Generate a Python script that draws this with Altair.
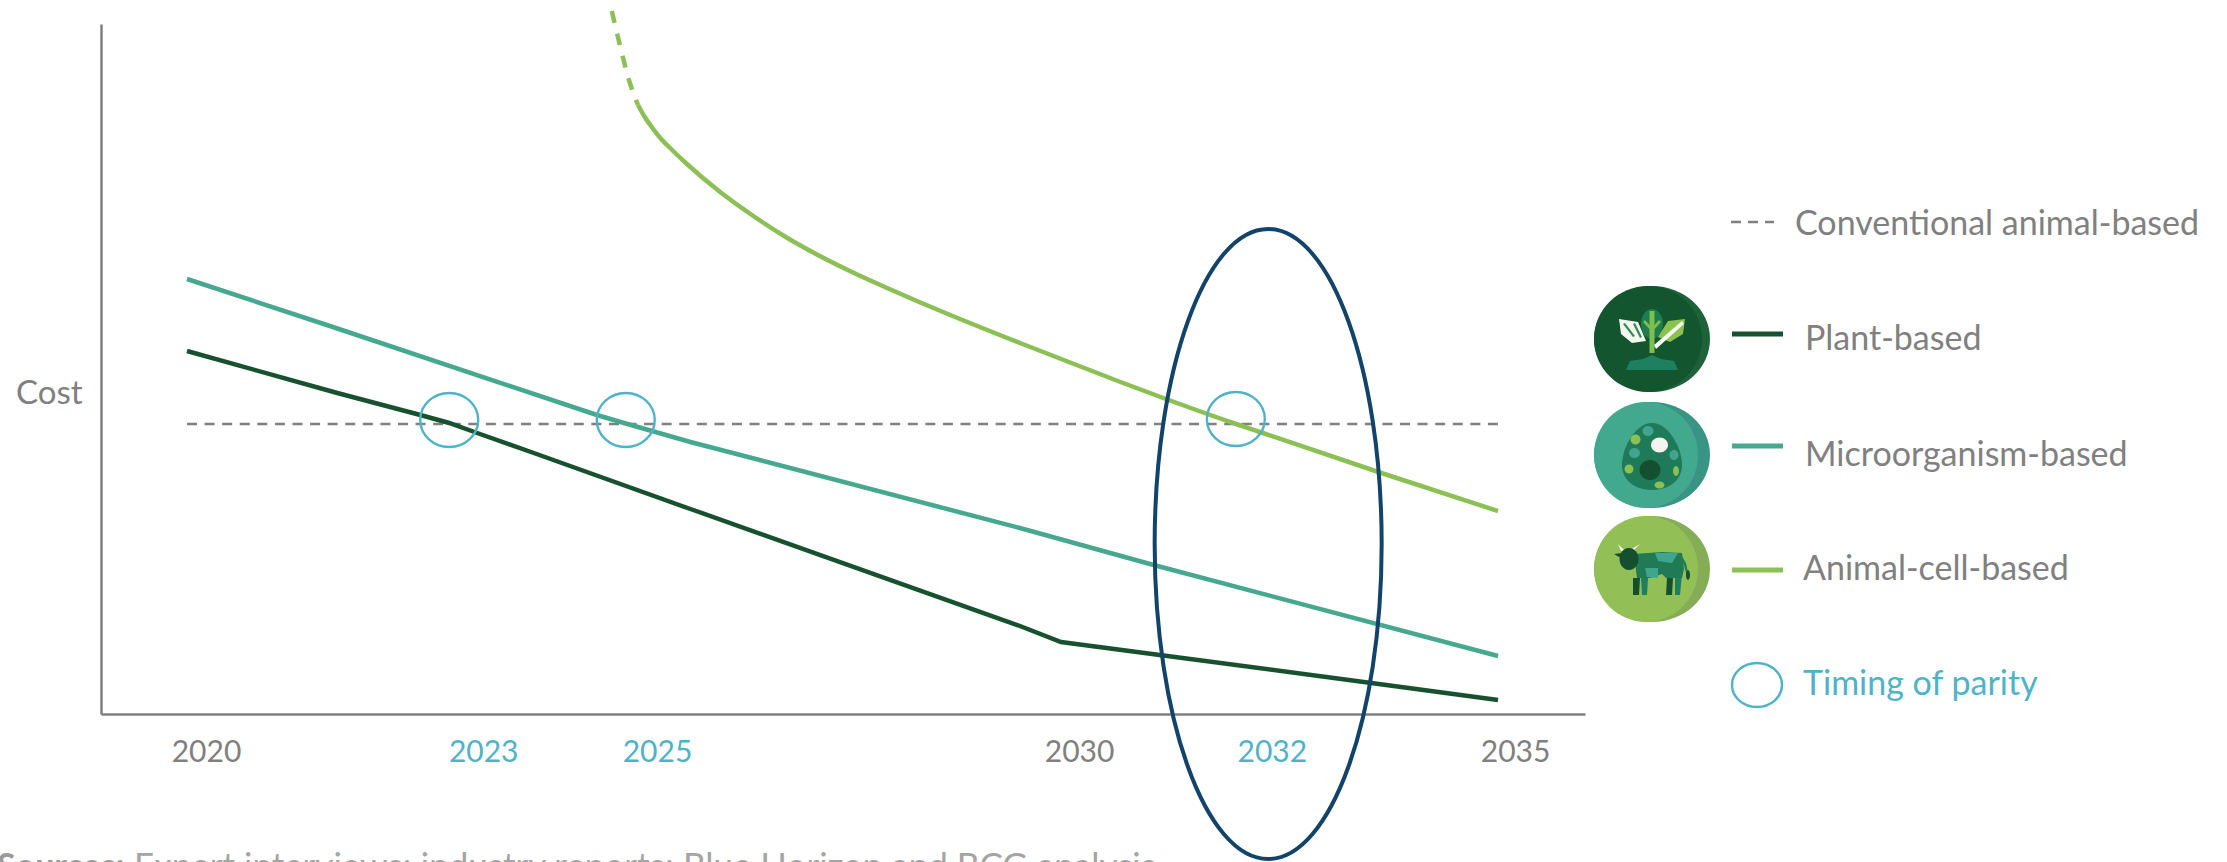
import altair as alt
import pandas as pd

# Cost curves: year against relative cost
plant_years = [2020, 2021.72, 2022.67, 2023.0, 2023.32, 2024.0, 2025.76, 2029.53, 2030.0, 2031.13, 2033.55, 2035]
plant_cost = [363, 321, 299, 291, 281, 260, 205, 88, 72, 59, 31, 14]
micro_years = [2020, 2021.6, 2024.69, 2025.0, 2025.76, 2029.53, 2031.06, 2035]
micro_cost = [435, 389, 299, 291, 272, 186, 149, 58]
cell_years = [2025.16, 2025.23, 2025.30, 2025.41, 2025.55, 2025.72, 2026.10, 2026.48, 2026.86, 2027.24, 2027.62,
              2028.01, 2028.39, 2028.76, 2029.53, 2030.68, 2031.17, 2031.97, 2032.31, 2033.63, 2035]
cell_cost = [609, 598, 589, 576.5, 564, 550, 522, 498, 476.5, 458, 441.5,
             426, 411.5, 398, 371, 332, 316, 291, 281, 242, 203]
cell_early_years = [2024.86, 2024.95, 2025.06, 2025.16]
cell_early_cost = [703, 670, 633, 609]
conventional_years = [2020, 2035]
conventional_cost = [290, 290]

parity_years = [2023, 2025, 2032]
parity_mark_years = [2023, 2025.02, 2032]
parity_cost = [294, 294, 295]
highlight_year = [2032.37]
highlight_cost = [170]

tick_years = [2020, 2023, 2025, 2030, 2032, 2035]
tick_shift = [19, 34, 33, 18, 36, 17]

PLANT, MICRO, CELL = "#17512f", "#46a88f", "#8cbf56"
PARITY, NAVY, GREY = "#4fb3c8", "#12436a", "#808080"
FONT = "Lato"
LEFT, TOP = 101, 24


def ell(rx, ry, cx=0, cy=0):
    """Closed ellipse as an SVG path around a local origin."""
    return (f"M{cx-rx},{cy}A{rx},{ry},0,1,1,{cx+rx},{cy}"
            f"A{rx},{ry},0,1,1,{cx-rx},{cy}Z")


def poly(*pts):
    return "M" + "L".join(f"{x},{y}" for x, y in pts) + "Z"


xs = alt.Scale(domain=[2019.016, 2035.995], nice=False, zero=False)
ys = alt.Scale(domain=[0, 690], nice=False, zero=False)
x_axis = alt.Axis(
    values=tick_years, title=None, grid=False, ticks=False, format="d",
    domainColor=GREY, domainWidth=2.5, labelFont=FONT, labelFontSize=30,
    labelPadding=23, labelFlush=False, labelOverlap=False,
    labelColor={"condition": {"test": f"indexof({parity_years}, datum.value) >= 0", "value": PARITY},
                "value": GREY},
    labelOffset={"condition": [{"test": f"datum.value == {y}", "value": s}
                               for y, s in zip(tick_years, tick_shift)], "value": 0},
)
y_axis = alt.Axis(
    values=[321], title=None, grid=False, ticks=False, labelExpr="'Cost'",
    domainColor=GREY, domainWidth=2.5, labelFont=FONT, labelFontSize=33,
    labelColor=GREY, labelPadding=19,
)
X = alt.X("year:Q", scale=xs, axis=x_axis)
Y = alt.Y("cost:Q", scale=ys, axis=y_axis)


def series(years, cost, **mark):
    frame = pd.DataFrame({"year": years, "cost": cost})
    return alt.Chart(frame).mark_line(**mark).encode(x=X, y=Y)


def marker(years, cost, path, stroke, width):
    frame = pd.DataFrame({"year": years, "cost": cost})
    return alt.Chart(frame).mark_point(
        shape=path, size=4, filled=False, stroke=stroke, strokeWidth=width, opacity=1, fill=None
    ).encode(x=X, y=Y)


one = pd.DataFrame({"k": [0]})


def glyph(cx, cy, path, fill):
    return alt.Chart(one).mark_point(
        shape=path, size=4, filled=True, fill=fill, stroke=None, opacity=1
    ).encode(x=alt.value(cx - LEFT), y=alt.value(cy - TOP))


def label(px, py, text, color=GREY, size=34, weight="normal"):
    return alt.Chart(one).mark_text(
        text=text, align="left", baseline="middle", font=FONT, fontSize=size,
        color=color, fontWeight=weight
    ).encode(x=alt.value(px - LEFT), y=alt.value(py - TOP))


def key_line(x0, x1, py, color, width, dash=None):
    opts = dict(color=color, strokeWidth=width)
    if dash:
        opts["strokeDash"] = dash
    return alt.Chart(one).mark_rule(**opts).encode(
        x=alt.value(x0 - LEFT), x2=alt.value(x1 - LEFT), y=alt.value(py - TOP)
    )


layers = [
    series(conventional_years, conventional_cost, color=GREY, strokeWidth=2.5, strokeDash=[10, 7.58]),
    series(plant_years, plant_cost, color=PLANT, strokeWidth=4.5),
    series(micro_years, micro_cost, color=MICRO, strokeWidth=4.5),
    series(cell_early_years, cell_early_cost, color=CELL, strokeWidth=4.5, strokeDash=[12, 11], interpolate="monotone"),
    series(cell_years, cell_cost, color=CELL, strokeWidth=4.5, interpolate="monotone"),
    marker(parity_mark_years, parity_cost, ell(29, 27), PARITY, 2.4),
    marker(highlight_year, highlight_cost, ell(113.5, 315), NAVY, 4),
]

# Key: line samples and their captions
layers += [
    key_line(1731, 1774, 222, GREY, 2.5, [10, 7]),
    key_line(1732, 1783, 334, PLANT, 5),
    key_line(1732, 1783, 446, MICRO, 5),
    key_line(1732, 1783, 570, CELL, 5),
    alt.Chart(one).mark_point(shape=ell(25, 22), size=4, filled=False, stroke=PARITY, strokeWidth=2.4, opacity=1)
       .encode(x=alt.value(1757 - LEFT), y=alt.value(685 - TOP)),
    label(1795, 225, "Conventional animal-based"),
    label(1805, 340, "Plant-based"),
    label(1805, 456, "Microorganism-based"),
    label(1803, 570, "Animal-cell-based"),
    label(1803, 685, "Timing of parity", color=PARITY),
]

# Plant icon
c = (1652, 339)
for path, fill in [
    (ell(58, 53), "#1d6238"),
    (ell(54, 53, -4, 0), "#12552f"),
    (ell(11, 15, 0, -15), "#1e7d4f"),
    (poly((-26, 31), (-22, 22), (-9, 20), (0, 16), (9, 20), (22, 22), (26, 31)), "#1f8060"),
    (poly((-33, -20), (-14, -17), (-6, 2), (-20, 4), (-31, -5)), "#f4f8ee"),
    (poly((-29, -15), (-27, -16), (-17, -3), (-19, -2)), "#2f8e55"),
    (poly((-19, -15), (-17, -16), (-10, -2), (-12, -1)), "#2f8e55"),
    (poly((33, -20), (16, -18), (6, -2), (18, 3), (31, -5)), "#8cc152"),
    (poly((-2.5, -28), (2.5, -28), (2.5, 14), (-2.5, 14)), "#7ec04f"),
    (poly((-9, -17), (-7, -19), (1, -10), (1, -6)), "#7ec04f"),
    (poly((9, -17), (7, -19), (-1, -10), (-1, -6)), "#7ec04f"),
    (poly((2, 6), (30, -18), (32, -15), (4, 10)), "#f4f8ee"),
]:
    layers.append(glyph(c[0], c[1], path, fill))

# Microorganism icon
c = (1652, 455)
for path, fill in [
    (ell(58, 53), "#3a9484"),
    (ell(52, 53, -6, 0), "#42a98f"),
    ("M0,-32C16,-32,30,-8,30,10C30,26,16,35,0,35C-16,35,-30,26,-30,10C-30,-8,-16,-32,0,-32Z", "#1f7a5a"),
    (ell(8.5, 7.5, 7.5, -10), "#f5f5f0"),
    (ell(5.5, 5, -4, -24), "#3fa58f"),
    (ell(5, 5, -16.5, -15.5), "#8cc152"),
    (ell(5.5, 5, -17.5, -2), "#3fa58f"),
    (ell(4.5, 5, 22, 0), "#3fa58f"),
    (ell(10.5, 10, -2, 15), "#14502f"),
    (ell(4.5, 4.5, -23, 14), "#8cc152"),
    (ell(5, 3.5, 7.5, 30), "#8cc152"),
    (ell(3, 5, 24, 16), "#8cc152"),
]:
    layers.append(glyph(c[0], c[1], path, fill))

# Cow icon
c = (1652, 569)
for path, fill in [
    (ell(58, 53), "#85ad58"),
    (ell(52, 53, -6, 0), "#93c056"),
    (poly((29, -14), (34, -6), (37, 8), (35, 8), (32, -4), (28, -11)), "#1f7a55"),
    (ell(2, 5, 36, 6), "#14502f"),
    (poly((-19, 9), (-12, 9), (-13, 26), (-19, 26)), "#14502f"),
    (poly((15, 9), (21, 9), (20, 26), (14, 26)), "#14502f"),
    (poly((-11, 9), (-4, 9), (-5, 26), (-10, 26)), "#1f8060"),
    (poly((23, 9), (30, 5), (28, 26), (23, 26)), "#1f8060"),
    (poly((-18, -15), (10, -17), (30, -16), (32, 0), (30, 9), (14, 9), (10, 5), (-2, 9), (-15, 9)), "#1f7a55"),
    (poly((3, -16), (26, -16), (20, -6), (6, -8)), "#3fa58f"),
    (poly((-7, -1), (6, -1), (6, 9), (-5, 8)), "#3fa58f"),
    (poly((-34, -25), (-28, -19), (-31, -18)), "#f4f4ec"),
    (poly((-12, -25), (-18, -19), (-22, -19)), "#f4f4ec"),
    (poly((-38, -15), (-30, -16), (-28, -12), (-33, -12)), "#14502f"),
    (ell(9.5, 11, -23, -10), "#134f30"),
]:
    layers.append(glyph(c[0], c[1], path, fill))

# Source line, cut by the bottom edge of the page
layers += [
    alt.Chart(one).mark_text(
        text="Sources:", align="left", baseline="alphabetic", font=FONT, fontSize=34,
        fontWeight="bold", color="#9a9a9a"
    ).encode(x=alt.value(-3 - LEFT), y=alt.value(878 - TOP)),
    alt.Chart(one).mark_text(
        text="Expert interviews; industry reports; Blue Horizon and BCG analysis",
        align="left", baseline="alphabetic", font=FONT, fontSize=35, color="#a4a4a4"
    ).encode(x=alt.value(134 - LEFT), y=alt.value(878 - TOP)),
]

chart = alt.layer(*layers).properties(
    width=1484, height=690,
    padding={"left": LEFT, "top": TOP, "right": 642, "bottom": 148},
    autosize=alt.AutoSizeParams(type="none"),
    background="#ffffff",
).configure_view(stroke=None)

chart.save("out.html", embed_options={"renderer": "svg", "actions": False})
